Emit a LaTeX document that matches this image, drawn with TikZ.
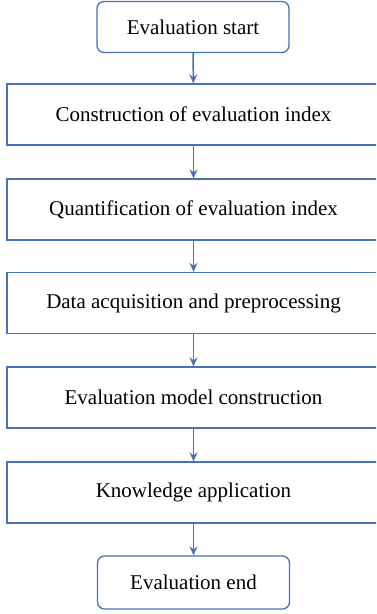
\documentclass[tikz,border=0pt]{standalone}
\usepackage{fontspec}
\setmainfont{Liberation Serif}
\usepackage{xcolor}
\usetikzlibrary{arrows.meta}

\definecolor{flowblue}{RGB}{74,114,184}

\tikzset{
    endbox/.style={
        draw=flowblue,
        rounded corners=7pt,
        line width=1.3pt,
        minimum width=192pt,
        minimum height=51pt,
        align=center,
        font=\fontsize{21}{24}\selectfont
    },
    stepbox/.style={
        draw=flowblue,
        line width=1.3pt,
        minimum width=373pt,
        minimum height=61pt,
        align=center,
        font=\fontsize{21}{24}\selectfont
    },
    flow/.style={
        draw=flowblue,
        line width=1.5pt,
        -{Stealth[length=9pt,width=8pt]}
    }
}

\begin{document}
\begin{tikzpicture}[x=1pt,y=1pt]

\clip (0,0) rectangle (376,-614);

\node[endbox] (start) at (193,-27) {Evaluation start};

\node[stepbox] (index) at (193.5,-114.5) {Construction of evaluation index};
\node[stepbox] (quant) at (193.5,-209.5) {Quantification of evaluation index};
\node[stepbox] (data) at (193.5,-303) {Data acquisition and preprocessing};
\node[stepbox] (model) at (193.5,-397.5) {Evaluation model construction};
\node[stepbox] (apply) at (193.5,-492.5) {Knowledge application};

\node[endbox, minimum height=53pt] (finish) at (193.5,-582.5) {Evaluation end};

\draw[flow] (start) -- (index);
\draw[flow] (index) -- (quant);
\draw[flow] (quant) -- (data);
\draw[flow] (data) -- (model);
\draw[flow] (model) -- (apply);
\draw[flow] (apply) -- (finish);

\end{tikzpicture}
\end{document}
